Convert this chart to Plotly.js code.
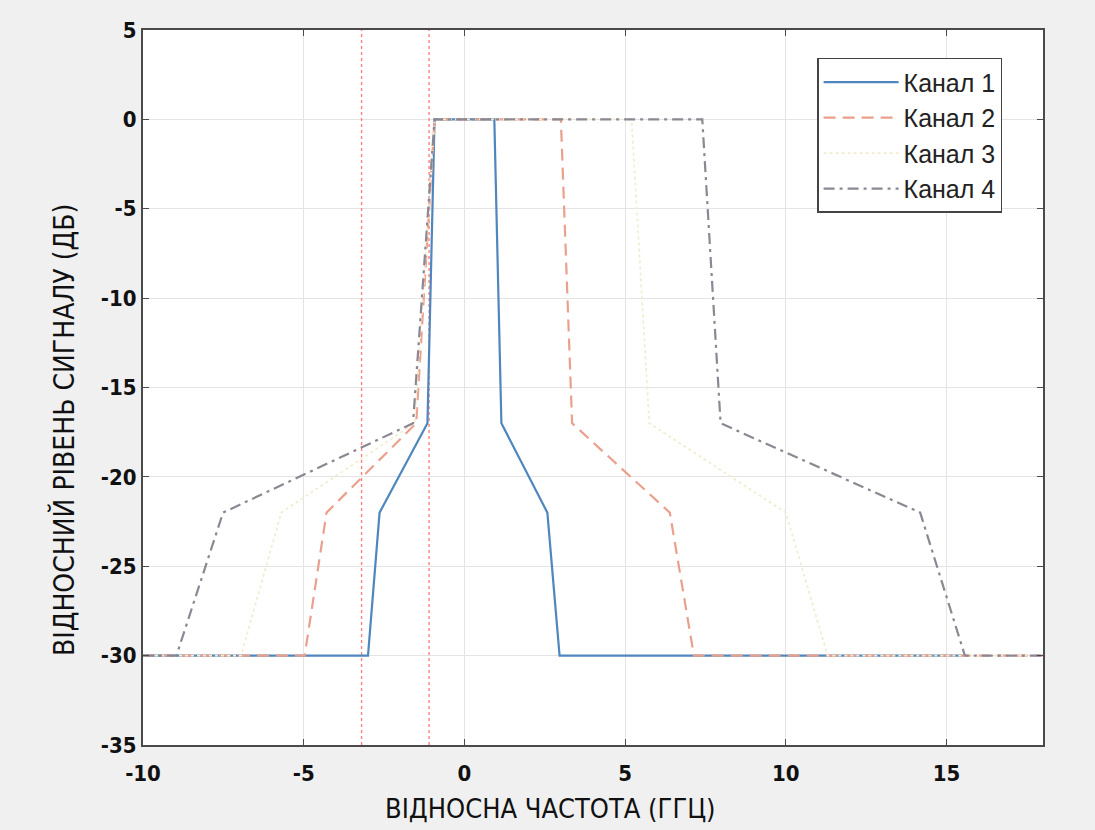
<!DOCTYPE html>
<html>
<head>
<meta charset="utf-8">
<script src="https://cdn.plot.ly/plotly-3.0.1.min.js"></script>
<style>
  html, body { margin: 0; padding: 0; background: #f0f0f0; }
  #chart { width: 1095px; height: 830px; }
</style>
</head>
<body>
<div id="chart"></div>
<script>
// Relative levels (dB) at each breakpoint, shared by all channel masks
const levelsDb = [-30, -30, -22, -17, 0, 0, -17, -22, -30, -30];

// Relative frequency breakpoints (GHz) for each channel
const freqCh1 = [-10, -3.0, -2.64, -1.15, -0.93, 0.93, 1.15, 2.58, 2.96, 15.5];
const freqCh2 = [-10, -4.97, -4.29, -1.5, -0.93, 3.0, 3.35, 6.39, 7.14, 18];
const freqCh3 = [-10, -6.95, -5.7, -1.55, -0.93, 5.2, 5.75, 10.0, 11.3, 18];
const freqCh4 = [-10, -8.96, -7.51, -1.6, -0.93, 7.4, 7.97, 14.18, 15.57, 18];

const channelNames = ['Канал 1', 'Канал 2', 'Канал 3', 'Канал 4'];

// Red dotted marker lines (GHz) spanning the full level range
const markerFreqs = [-3.2, -1.1];
const markerSpan = [-35, 5];

const xTicks = [-10, -5, 0, 5, 10, 15];
const yTicks = [-35, -30, -25, -20, -15, -10, -5, 0, 5];

const xTitle = 'ВІДНОСНА ЧАСТОТА (ГГЦ)';
const yTitle = 'ВІДНОСНИЙ РІВЕНЬ СИГНАЛУ (ДБ)';

const styles = [
  {color: '#4f86bd', width: 2.2, dash: 'solid'},
  {color: '#eaa08c', width: 2.2, dash: '12px,7px'},
  {color: '#f3ecd2', width: 1.8, dash: 'dot'},
  {color: '#8c8792', width: 2.2, dash: '11px,5px,3px,5px'}
];

const freqs = [freqCh1, freqCh2, freqCh3, freqCh4];

const traces = [];
markerFreqs.forEach(f => {
  traces.push({
    x: [f, f], y: markerSpan, mode: 'lines', showlegend: false, hoverinfo: 'skip',
    line: {color: '#ff8080', width: 1.4, dash: 'dot'}
  });
});
freqs.forEach((fx, i) => {
  traces.push({
    x: fx, y: levelsDb, mode: 'lines', name: channelNames[i],
    line: styles[i]
  });
});

const condensed = 'DejaVu Sans Condensed, Liberation Sans Narrow, Liberation Sans, Arial';
const tickFont = {family: condensed, size: 22, color: '#111', weight: 'bold'};

const layout = {
  width: 1095, height: 830,
  paper_bgcolor: '#f0f0f0',
  plot_bgcolor: '#ffffff',
  margin: {l: 143, r: 52, t: 30, b: 85},
  showlegend: true,
  legend: {
    x: 0.749, y: 0.961, xanchor: 'left', yanchor: 'top',
    bgcolor: '#ffffff', bordercolor: '#444', borderwidth: 1.5,
    font: {family: 'Liberation Sans, Arial', size: 25, color: '#222'},
    itemwidth: 75, tracegroupgap: 0
  },
  xaxis: {
    range: [-10, 18], tickvals: xTicks, ticktext: xTicks.map(String),
    showgrid: true, gridcolor: '#e4e4e4', gridwidth: 1,
    zeroline: false, showline: true, linecolor: '#4a4a4a', linewidth: 2, mirror: 'ticks',
    ticks: 'inside', ticklen: 6, tickcolor: '#4a4a4a', tickwidth: 1.2,
    tickfont: tickFont, ticklabelstandoff: 8
  },
  yaxis: {
    range: [-35, 5], tickvals: yTicks, ticktext: yTicks.map(String),
    showgrid: true, gridcolor: '#e4e4e4', gridwidth: 1,
    zeroline: false, showline: true, linecolor: '#4a4a4a', linewidth: 2, mirror: 'ticks',
    ticks: 'inside', ticklen: 6, tickcolor: '#4a4a4a', tickwidth: 1.2,
    tickfont: tickFont
  },
  annotations: [
    {text: xTitle, xref: 'paper', yref: 'paper', x: (550 - 143) / 900, y: -(808 - 745) / 715,
     xanchor: 'center', yanchor: 'middle', showarrow: false,
     font: {family: condensed, size: 27, color: '#111'}},
    {text: yTitle, xref: 'paper', yref: 'paper', x: -(143 - 64) / 900, y: (745 - 430) / 715,
     xanchor: 'center', yanchor: 'middle', textangle: -90, showarrow: false,
     font: {family: condensed, size: 28, color: '#111'}}
  ]
};

Plotly.newPlot('chart', traces, layout, {displayModeBar: false, staticPlot: true});
</script>
</body>
</html>
